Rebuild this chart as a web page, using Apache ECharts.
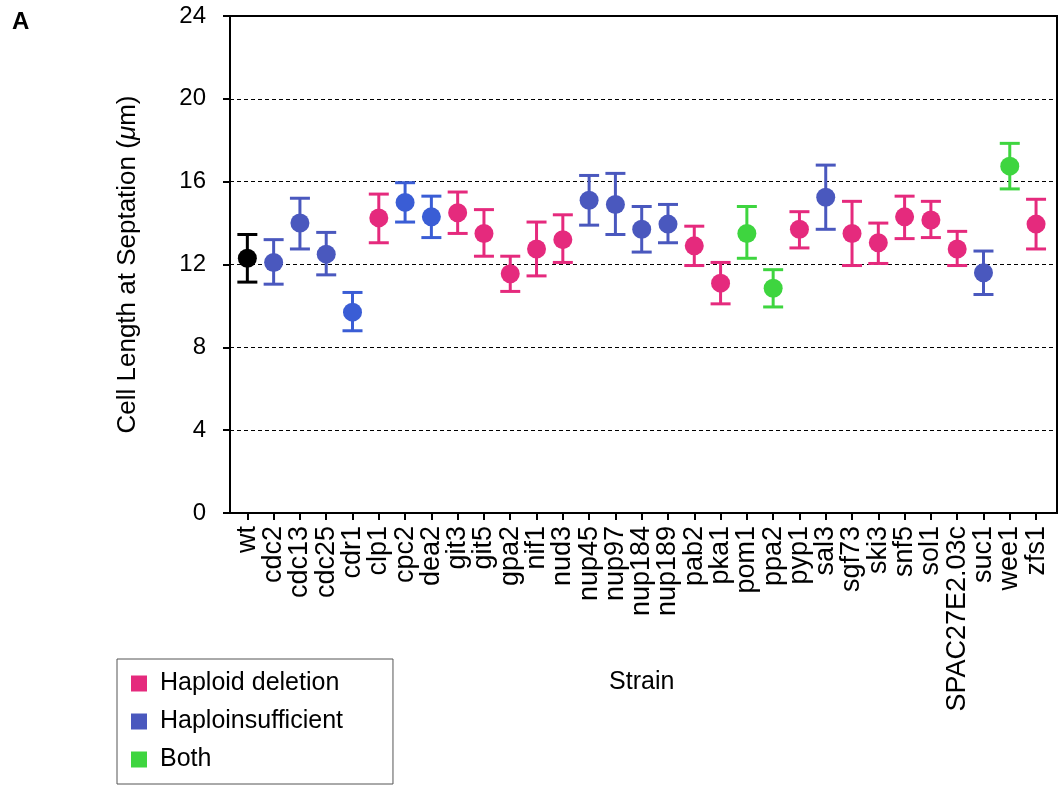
<!DOCTYPE html>
<html>
<head>
<meta charset="utf-8">
<script src="https://cdn.jsdelivr.net/npm/echarts@6/dist/echarts.min.js"></script>
<style>
  html, body { margin: 0; padding: 0; background: #fff; }
  #chart { width: 1058px; height: 785px; }
</style>
</head>
<body>
<div id="chart"></div>
<script>
// Strains along the x axis
const strains = ['wt', 'cdc2', 'cdc13', 'cdc25', 'cdr1', 'clp1', 'cpc2', 'dea2', 'git3', 'git5',
  'gpa2', 'nif1', 'nud3', 'nup45', 'nup97', 'nup184', 'nup189', 'pab2', 'pka1', 'pom1',
  'ppa2', 'pyp1', 'sal3', 'sgf73', 'ski3', 'snf5', 'sol1', 'SPAC27E2.03c', 'suc1', 'wee1', 'zfs1'];

// Mean cell length at septation (µm)
const meanLength = [12.3, 12.1, 14.0, 12.5, 9.7, 14.25, 15.0, 14.3, 14.5, 13.5,
  11.55, 12.75, 13.2, 15.1, 14.9, 13.7, 13.95, 12.9, 11.1, 13.5,
  10.85, 13.7, 15.25, 13.5, 13.05, 14.3, 14.15, 12.75, 11.6, 16.75, 13.95];

// Error bar ends (µm)
const upperLength = [13.45, 13.2, 15.2, 13.55, 10.65, 15.4, 15.95, 15.3, 15.5, 14.65,
  12.4, 14.05, 14.4, 16.3, 16.4, 14.8, 14.9, 13.85, 12.1, 14.8,
  11.75, 14.55, 16.8, 15.05, 14.0, 15.3, 15.05, 13.6, 12.65, 17.85, 15.15];
const lowerLength = [11.15, 11.05, 12.75, 11.5, 8.8, 13.05, 14.05, 13.3, 13.5, 12.4,
  10.7, 11.45, 12.1, 13.9, 13.45, 12.6, 13.05, 11.95, 10.1, 12.3,
  9.95, 12.8, 13.7, 11.95, 12.05, 13.25, 13.3, 11.95, 10.55, 15.65, 12.75];

// Class of each strain
const strainClass = ['wt', 'ins', 'ins', 'ins', 'ins2', 'del', 'ins2', 'ins2', 'del', 'del',
  'del', 'del', 'del', 'ins', 'ins', 'ins', 'ins', 'del', 'del', 'both',
  'both', 'del', 'ins', 'del', 'del', 'del', 'del', 'del', 'ins', 'both', 'del'];

// Y axis ticks
const yTicks = { min: 0, max: 24, step: 4 };

const classes = [
  { key: 'del',  name: 'Haploid deletion',  color: '#e52a7d', legend: true },
  { key: 'ins',  name: 'Haploinsufficient', color: '#4a58be', legend: true },
  { key: 'both', name: 'Both',              color: '#3ed53f', legend: true },
  { key: 'ins2', name: 'Haploinsufficient', color: '#3a5dd5', legend: false },
  { key: 'wt',   name: 'wild type',         color: '#000000', legend: false }
];

function rowsFor(key) {
  const rows = [];
  strains.forEach((s, i) => {
    if (strainClass[i] === key) rows.push([i, meanLength[i], lowerLength[i], upperLength[i]]);
  });
  return rows;
}

function errorBar(color) {
  return function (params, api) {
    const x = api.value(0);
    const lo = api.coord([x, api.value(2)]);
    const hi = api.coord([x, api.value(3)]);
    const hw = 10;
    const style = { stroke: color, lineWidth: 3, fill: null };
    return {
      type: 'group',
      children: [
        { type: 'line', shape: { x1: lo[0], y1: lo[1], x2: hi[0], y2: hi[1] }, style: style },
        { type: 'line', shape: { x1: lo[0] - hw, y1: lo[1], x2: lo[0] + hw, y2: lo[1] }, style: style },
        { type: 'line', shape: { x1: hi[0] - hw, y1: hi[1], x2: hi[0] + hw, y2: hi[1] }, style: style }
      ]
    };
  };
}

const series = [];
classes.forEach(c => {
  const rows = rowsFor(c.key);
  series.push({
    type: 'scatter',
    name: c.name,
    xAxisIndex: 1, yAxisIndex: 1,
    symbol: 'circle',
    symbolSize: 19,
    itemStyle: { color: c.color, opacity: 1 },
    encode: { x: 0, y: 1 },
    data: rows,
    z: 4
  });
  series.push({
    type: 'custom',
    name: c.name,
    xAxisIndex: 1, yAxisIndex: 1,
    renderItem: errorBar(c.color),
    itemStyle: { color: c.color },
    encode: { x: 0, y: [2, 3] },
    data: rows,
    z: 3,
    silent: true
  });
});

const font = 'Liberation Sans, Arial, Helvetica, sans-serif';

const chart = echarts.init(document.getElementById('chart'), null, { renderer: 'canvas' });
chart.setOption({
  animation: false,
  backgroundColor: '#fff',
  textStyle: { fontFamily: font, color: '#000' },
  title: {
    text: 'A', left: 7, top: 5,
    textStyle: { fontFamily: font, fontWeight: 'bold', fontSize: 24, color: '#000' }
  },
  legend: {
    data: classes.filter(c => c.legend).map(c => ({ name: c.name, itemStyle: { color: c.color } })),
    orient: 'vertical',
    left: 117, top: 659,
    icon: 'rect',
    itemWidth: 16, itemHeight: 16,
    itemGap: 13,
    padding: [12, 50, 12, 14],
    borderColor: '#555', borderWidth: 1,
    textStyle: { fontFamily: font, fontSize: 25, color: '#000', padding: [0, 0, 0, 8] }
  },
  grid: [
    { left: 230, top: 16, width: 827, height: 497, show: true, borderColor: '#000', borderWidth: 2, backgroundColor: 'transparent' },
    { left: 234.2, top: 16, width: 815, height: 497 }
  ],
  xAxis: [
    { type: 'value', gridIndex: 0, min: 0, max: 1, show: false },
    {
      type: 'category', gridIndex: 1, data: strains, boundaryGap: true,
      name: 'Strain', nameLocation: 'middle', nameGap: 157, nameMoveOverlap: false,
      nameTextStyle: { fontFamily: font, fontSize: 25, color: '#000' },
      axisLine: { show: false },
      axisTick: { show: true, alignWithLabel: true, length: 7, lineStyle: { color: '#000', width: 2 } },
      axisLabel: { rotate: 90, fontFamily: font, fontSize: 27, color: '#000', margin: 13, interval: 0 }
    }
  ],
  yAxis: [
    {
      type: 'value', gridIndex: 0, min: yTicks.min, max: yTicks.max, interval: yTicks.step,
      name: 'Cell Length at Septation ({i|μ}m)',
      nameLocation: 'middle', nameGap: 89,
      nameTextStyle: {
        fontFamily: font, fontSize: 26, color: '#000',
        rich: { i: { fontFamily: font, fontSize: 26, fontStyle: 'italic', color: '#000' } }
      },
      axisLine: { show: true, lineStyle: { color: '#000', width: 2 } },
      axisTick: { show: true, length: 7, lineStyle: { color: '#000', width: 2 } },
      axisLabel: { fontFamily: font, fontSize: 24, color: '#000', margin: 24 },
      splitLine: { show: true, lineStyle: { color: '#000', width: 1, type: [4, 3] } }
    },
    { type: 'value', gridIndex: 1, min: yTicks.min, max: yTicks.max, show: false, splitLine: { show: false } }
  ],
  series: series
});
</script>
</body>
</html>
